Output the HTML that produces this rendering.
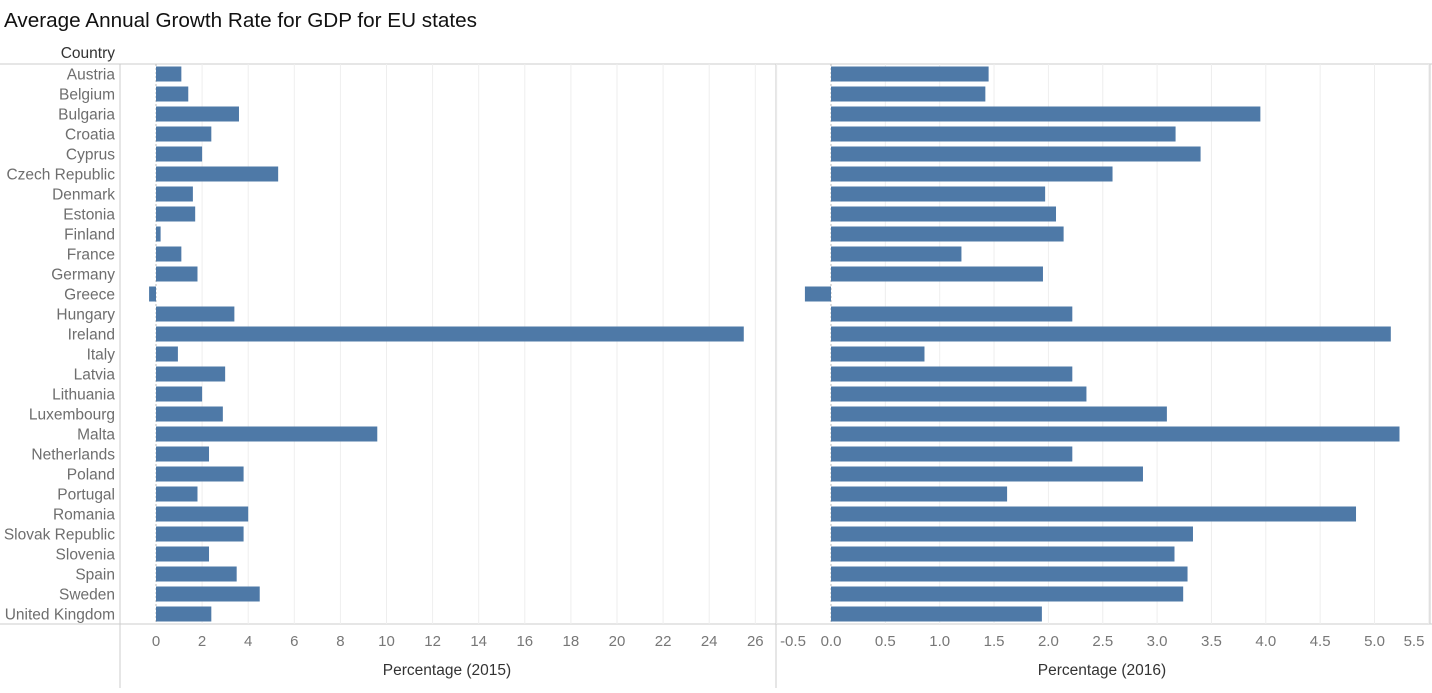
<!DOCTYPE html>
<html><head><meta charset="utf-8"><style>
body{margin:0;background:#fff;width:1432px;height:688px;overflow:hidden;font-family:"Liberation Sans",sans-serif}
svg text{font-family:"Liberation Sans",sans-serif}
</style></head><body>
<svg id="chart" width="1432" height="688">
<text x="4" y="27" font-size="20.7" fill="#111">Average Annual Growth Rate for GDP for EU states</text>
<text x="115" y="58" font-size="15.5" fill="#333" text-anchor="end">Country</text>
<g id="g"></g>
</svg>
<script>
const countries=["Austria","Belgium","Bulgaria","Croatia","Cyprus","Czech Republic","Denmark","Estonia","Finland","France","Germany","Greece","Hungary","Ireland","Italy","Latvia","Lithuania","Luxembourg","Malta","Netherlands","Poland","Portugal","Romania","Slovak Republic","Slovenia","Spain","Sweden","United Kingdom"];
const values2015=[1.1,1.4,3.6,2.4,2.0,5.3,1.6,1.7,0.2,1.1,1.8,-0.3,3.4,25.5,0.95,3.0,2.0,2.9,9.6,2.3,3.8,1.8,4.0,3.8,2.3,3.5,4.5,2.4];
const values2016=[1.45,1.42,3.95,3.17,3.40,2.59,1.97,2.07,2.14,1.20,1.95,-0.24,2.22,5.15,0.86,2.22,2.35,3.09,5.23,2.22,2.87,1.62,4.83,3.33,3.16,3.28,3.24,1.94];
const ticks2015=[0,2,4,6,8,10,12,14,16,18,20,22,24,26];
const ticks2016=[-0.5,0,0.5,1,1.5,2,2.5,3,3.5,4,4.5,5,5.5];
const NS="http://www.w3.org/2000/svg";
const g=document.getElementById('g');
function el(t,a,p){const e=document.createElementNS(NS,t);for(const k in a)e.setAttribute(k,a[k]);(p||g).appendChild(e);return e;}
const top0=64,rowH=20,axisY=624;
const x1=v=>156+v*23.05;
const x2=v=>831+v*108.7;
let l=el('line',{x1:0,y1:64,x2:1432,y2:64,stroke:'#ccc'});

l=el('line',{x1:0,y1:axisY,x2:1432,y2:axisY,stroke:'#ccc'});

l=el('line',{x1:120,y1:64,x2:120,y2:688,stroke:'#ccc'});

l=el('line',{x1:776,y1:64,x2:776,y2:688,stroke:'#ccc'});

l=el('line',{x1:1430,y1:64,x2:1430,y2:624,stroke:'#ccc'});

ticks2015.forEach(t=>{
 if(t!==0){const gl=el('line',{x1:x1(t),y1:64,x2:x1(t),y2:axisY,stroke:'#eee'});
 }
 const tx=el('text',{x:x1(t),y:646,'font-size':15,fill:'#777','text-anchor':'middle'});tx.textContent=t;
 
});
ticks2016.forEach(t=>{
 if(t!==0){const gl=el('line',{x1:x2(t),y1:64,x2:x2(t),y2:axisY,stroke:'#eee'});
 }
 let xx=x2(t);xx=Math.max(793,Math.min(1414,xx));
 const tx=el('text',{x:xx,y:646,'font-size':15,fill:'#777','text-anchor':'middle'});tx.textContent=t.toFixed(1);
 
});
[[x1(0),'zero-line-2015'],[x2(0),'zero-line-2016']].forEach(([x,n])=>{
 const z=el('line',{x1:x,y1:64,x2:x,y2:axisY,stroke:'#bbb','stroke-dasharray':'2,2'});
 
});
countries.forEach((c,i)=>{
 const cy=top0+i*rowH+rowH/2;
 const t=el('text',{x:115,y:cy+5.5,'font-size':15.5,fill:'#6e6e6e','text-anchor':'end'});t.textContent=c;
 
 const v1=values2015[i],a=x1(Math.min(0,v1)),b=x1(Math.max(0,v1));
 const r1=el('rect',{x:a,y:cy-7.5,width:b-a,height:15,fill:'#4e79a7'});
 
 const v2=values2016[i],c2=x2(Math.min(0,v2)),d2=x2(Math.max(0,v2));
 const r2=el('rect',{x:c2,y:cy-7.5,width:d2-c2,height:15,fill:'#4e79a7'});
 
});
let at=el('text',{x:447,y:675,'font-size':15.5,fill:'#333','text-anchor':'middle'});at.textContent='Percentage (2015)';

at=el('text',{x:1102,y:675,'font-size':15.5,fill:'#333','text-anchor':'middle'});at.textContent='Percentage (2016)';

</script>
</body></html>
